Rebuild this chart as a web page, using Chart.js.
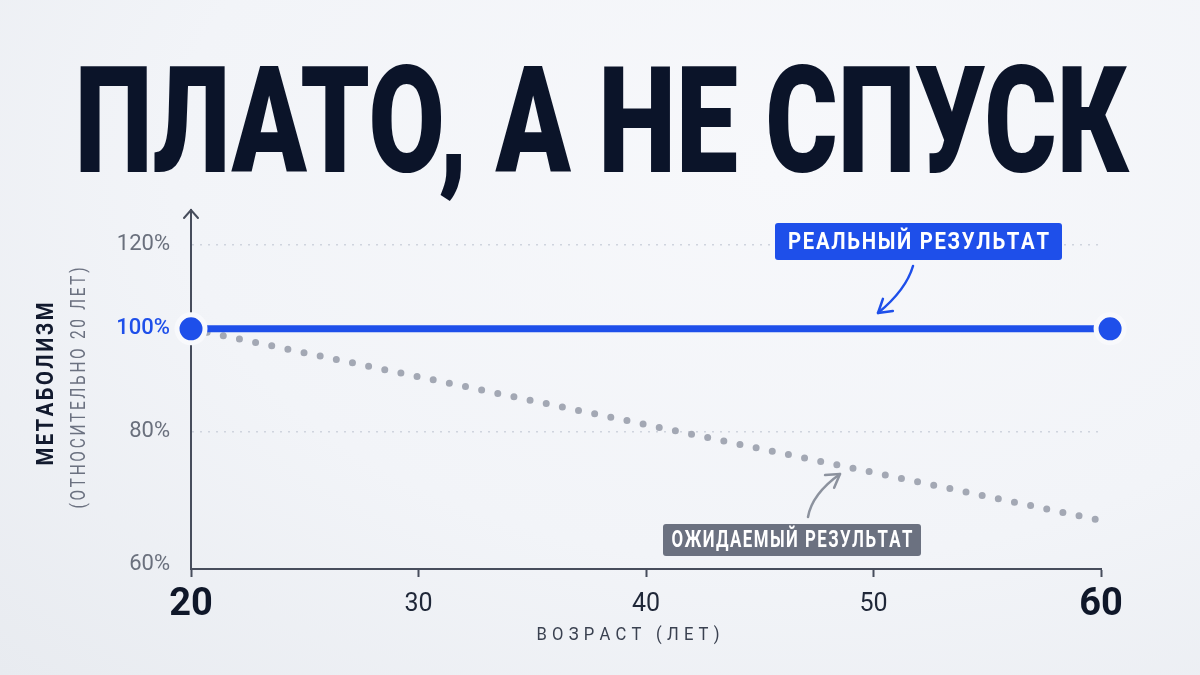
<!DOCTYPE html>
<html lang="ru">
<head>
<meta charset="utf-8">
<title>Плато, а не спуск</title>
<script src="https://cdn.jsdelivr.net/npm/chart.js@4.4.1/dist/chart.umd.min.js"></script>
<style>
  html, body { margin: 0; padding: 0; }
  body {
    width: 1200px; height: 675px; overflow: hidden;
    background: radial-gradient(ellipse at 65% 25%, #f7f8fb 0%, #f2f4f8 55%, #e8ebf0 100%);
  }
  #wrap { position: relative; width: 1200px; height: 675px; }
</style>
</head>
<body>
<div id="wrap"><canvas id="chart" width="1200" height="675"></canvas></div>
<script>
// data
const realAges = [20, 60.4];
const realValues = [100, 100];
const expectedAges = [20, 60];
const expectedValues = [100, 66];
const xTicks = [20, 30, 40, 50, 60];
const yTicks = [60, 80, 100, 120];

const TITLE = 'ПЛАТО, А НЕ СПУСК';
const BLUE = '#1e4fea';
const GRAY_LINE = '#a3a8b4';
const AXIS = '#474d5c';
const INK = '#0b1429';
const FONT = "'Liberation Sans Narrow', Roboto, sans-serif";

// letter-spaced text, squeezed horizontally (condensed look) to a target width
function drawFitted(ctx, text, cx, cy, target, gap) {
  const chars = [...text];
  const widths = chars.map(c => ctx.measureText(c).width);
  const sum = widths.reduce((a, b) => a + b, 0);
  let natural = sum + gap * (chars.length - 1);
  let sx = 1;
  if (natural > target) sx = target / natural;
  else gap = (target - sum) / (chars.length - 1);
  ctx.save();
  ctx.translate(cx - target / 2, cy);
  ctx.scale(sx, 1);
  ctx.textAlign = 'left';
  ctx.textBaseline = 'middle';
  let x = 0;
  chars.forEach((c, i) => {
    ctx.fillText(c, x, 0);
    x += widths[i] + gap;
  });
  ctx.restore();
}

function curvedArrow(ctx, x0, y0, qx, qy, x1, y1, color) {
  ctx.save();
  ctx.strokeStyle = color;
  ctx.lineWidth = 2.5;
  ctx.lineCap = 'round';
  ctx.lineJoin = 'round';
  ctx.beginPath();
  ctx.moveTo(x0, y0);
  ctx.quadraticCurveTo(qx, qy, x1, y1);
  ctx.stroke();
  const a = Math.atan2(y1 - qy, x1 - qx);
  const len = 15;
  ctx.beginPath();
  ctx.moveTo(x1 + len * Math.cos(a + Math.PI - 0.55), y1 + len * Math.sin(a + Math.PI - 0.55));
  ctx.lineTo(x1, y1);
  ctx.lineTo(x1 + len * Math.cos(a + Math.PI + 0.55), y1 + len * Math.sin(a + Math.PI + 0.55));
  ctx.stroke();
  ctx.restore();
}

function callout(ctx, text, x0, y0, x1, y1, textW, bg, size) {
  ctx.save();
  ctx.fillStyle = bg;
  ctx.beginPath();
  ctx.roundRect(x0, y0, x1 - x0, y1 - y0, 3);
  ctx.fill();
  ctx.fillStyle = '#ffffff';
  ctx.font = 'bold ' + size + 'px ' + FONT;
  drawFitted(ctx, text, (x0 + x1) / 2, (y0 + y1) / 2 + 1, textW, 2);
  ctx.restore();
}

const decor = {
  id: 'decor',
  beforeDraw(chart) {
    const ctx = chart.ctx;
    ctx.save();
    ctx.fillStyle = INK;
    ctx.font = '900 148px Roboto';
    ctx.textBaseline = 'alphabetic';
    ctx.textAlign = 'left';
    const m = ctx.measureText(TITLE);
    const ink = m.actualBoundingBoxLeft + m.actualBoundingBoxRight;
    const sx = 1050 / ink;
    ctx.translate(80 + m.actualBoundingBoxLeft * sx, 172);
    ctx.scale(sx, 1);
    ctx.fillText(TITLE, 0, 0);
    ctx.restore();
  },
  afterDraw(chart) {
    const ctx = chart.ctx;
    const area = chart.chartArea;

    // arrow head on top of the y axis
    ctx.save();
    ctx.strokeStyle = AXIS;
    ctx.lineWidth = 2;
    ctx.lineCap = 'round';
    ctx.beginPath();
    ctx.moveTo(area.left - 7, area.top + 8);
    ctx.lineTo(area.left, area.top);
    ctx.lineTo(area.left + 7, area.top + 8);
    ctx.stroke();
    ctx.restore();

    // y axis titles
    ctx.save();
    ctx.translate(47, 384);
    ctx.rotate(-Math.PI / 2);
    ctx.fillStyle = '#121a2e';
    ctx.font = 'bold 24px ' + FONT;
    drawFitted(ctx, 'МЕТАБОЛИЗМ', 0, 0, 163, 3);
    ctx.restore();

    ctx.save();
    ctx.translate(80, 388);
    ctx.rotate(-Math.PI / 2);
    ctx.fillStyle = '#6b7180';
    ctx.font = '20px ' + FONT;
    drawFitted(ctx, '(ОТНОСИТЕЛЬНО 20 ЛЕТ)', 0, 0, 241, 3.5);
    ctx.restore();

    // x axis title
    ctx.save();
    ctx.fillStyle = '#3a4150';
    ctx.font = '19px ' + FONT;
    drawFitted(ctx, 'ВОЗРАСТ (ЛЕТ)', 628, 635, 183, 6);
    ctx.restore();

    // callouts
    callout(ctx, 'РЕАЛЬНЫЙ РЕЗУЛЬТАТ', 775, 223, 1062, 260, 261, BLUE, 24);
    curvedArrow(ctx, 913, 266, 906, 290, 878, 313, BLUE);

    callout(ctx, 'ОЖИДАЕМЫЙ РЕЗУЛЬТАТ', 663, 524, 921, 556, 241, '#6b7180', 23);
    curvedArrow(ctx, 808, 517, 812, 494, 840, 474, '#8c929e');
  }
};

const tickVal = c => (c && c.tick) ? c.tick.value : null;
const bigTick = c => tickVal(c) === 20 || tickVal(c) === 60;

new Chart(document.getElementById('chart'), {
  type: 'line',
  data: {
    datasets: [
      {
        label: 'Реальный результат',
        data: realAges.map((a, i) => ({ x: a, y: realValues[i] })),
        borderColor: BLUE,
        borderWidth: 7,
        pointRadius: 14,
        pointBorderWidth: 5,
        pointBackgroundColor: BLUE,
        pointBorderColor: '#f8f9fc',
        clip: false
      },
      {
        label: 'Ожидаемый результат',
        data: expectedAges.map((a, i) => ({ x: a, y: expectedValues[i] })),
        borderColor: GRAY_LINE,
        borderWidth: 7,
        borderDash: [0, 16.5],
        borderCapStyle: 'round',
        pointRadius: 0,
        clip: false
      }
    ]
  },
  options: {
    responsive: false,
    animation: false,
    layout: { padding: { left: 0, right: 99, top: 210, bottom: 0 } },
    plugins: { legend: { display: false }, tooltip: { enabled: false } },
    scales: {
      x: {
        type: 'linear',
        min: 20,
        max: 60,
        afterFit: s => { s.height = 106; },
        afterBuildTicks: s => { s.ticks = xTicks.map(v => ({ value: v })); },
        grid: { drawOnChartArea: false, drawTicks: true, tickLength: 8, tickWidth: 2, tickColor: AXIS },
        border: { color: AXIS, width: 2 },
        ticks: {
          autoSkip: false,
          maxRotation: 0,
          padding: 6,
          color: c => bigTick(c) ? '#0f1729' : '#1f2738',
          font: c => bigTick(c)
            ? { family: FONT, size: 38, weight: 'bold', lineHeight: '44px' }
            : { family: FONT, size: 25, weight: 'normal', lineHeight: '44px' }
        }
      },
      y: {
        type: 'logarithmic',
        min: 59.4,
        max: 129.4,
        afterFit: s => { s.width = 191; },
        afterBuildTicks: s => { s.ticks = yTicks.map(v => ({ value: v })); },
        grid: {
          drawTicks: false,
          lineWidth: 1.5,
          color: c => (tickVal(c) === 80 || tickVal(c) === 120) ? '#cfd4de' : 'rgba(0,0,0,0)'
        },
        border: { color: AXIS, width: 2, dash: [2, 6] },
        ticks: {
          padding: 21,
          callback: v => v + '%',
          color: c => tickVal(c) === 100 ? BLUE : '#6a707d',
          font: c => ({ family: FONT, size: 22, weight: tickVal(c) === 100 ? '500' : 'normal' })
        }
      }
    }
  },
  plugins: [decor]
});
</script>
</body>
</html>
